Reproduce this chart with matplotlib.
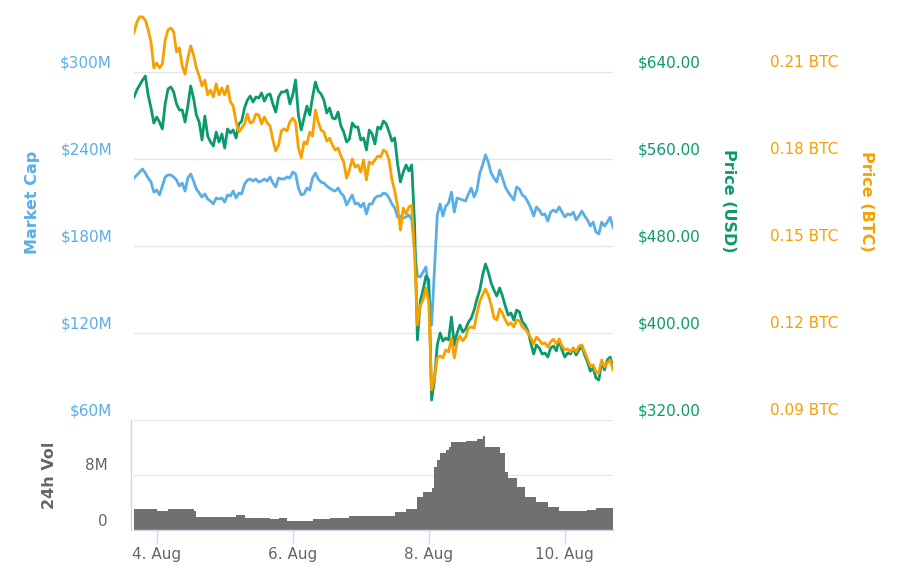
import matplotlib
matplotlib.use("Agg")
import matplotlib.pyplot as plt
import matplotlib.transforms as mt
from matplotlib.lines import Line2D
import pandas as pd

# ---------------- data (hourly samples) ----------------
start_time = "2017-08-03 16:00"
n_points = 170

market_cap = [
    226.9, 229.0, 231.0, 233.1, 230.3, 226.9, 224.1, 217.2, 218.6, 215.2,
    221.4, 227.6, 229.0, 229.0, 227.6, 225.5, 221.4, 223.4, 217.9, 226.9,
    229.7, 224.8, 219.3, 216.5, 213.8, 215.9, 212.4, 211.0, 209.0, 213.1,
    212.4, 213.1, 210.3, 215.2, 214.5, 217.9, 213.1, 216.5, 215.9, 222.7,
    225.5, 226.2, 224.8, 226.2, 224.1, 224.8, 226.2, 224.8, 227.6, 223.4,
    220.7, 226.9, 226.2, 226.2, 227.6, 226.9, 231.0, 229.7, 220.0, 215.2,
    215.9, 220.0, 218.6, 226.9, 230.3, 226.2, 224.1, 223.4, 221.4, 220.0,
    218.6, 217.9, 220.0, 216.5, 214.5, 208.3, 211.7, 215.2, 209.0, 209.6,
    206.9, 209.6, 202.1, 209.0, 209.0, 213.1, 214.5, 214.5, 216.5, 215.9,
    213.1, 209.0, 206.2, 200.0, 200.7, 199.3, 200.0, 201.4, 197.9, 177.2,
    159.3, 158.6, 162.1, 165.5, 149.6, 125.5, 163.4, 201.4, 209.0, 200.7,
    207.6, 209.6, 217.2, 203.4, 213.1, 212.4, 211.7, 211.0, 215.9, 220.0,
    213.8, 218.6, 230.3, 235.9, 242.8, 237.9, 230.3, 226.9, 224.1, 232.4,
    226.9, 220.7, 217.2, 214.5, 211.7, 220.7, 219.3, 215.2, 213.8, 210.3,
    206.2, 200.7, 206.9, 204.8, 201.4, 202.1, 197.2, 203.4, 204.8, 203.4,
    206.9, 203.4, 200.0, 202.1, 201.4, 203.4, 197.9, 200.7, 204.1, 200.7,
    197.9, 193.8, 196.5, 189.6, 188.3, 196.5, 193.8, 196.5, 200.0, 193.1,
]

price_usd = [
    617.0, 623.4, 628.0, 632.6, 636.3, 618.8, 606.9, 593.1, 598.6, 594.0,
    587.6, 610.6, 624.4, 626.2, 621.6, 610.6, 605.1, 605.1, 594.0, 608.7,
    627.1, 616.1, 600.5, 594.0, 577.5, 599.5, 581.1, 575.6, 571.9, 584.8,
    575.6, 583.0, 570.1, 587.6, 583.9, 586.7, 579.3, 592.2, 594.9, 606.9,
    614.2, 617.9, 612.4, 617.0, 616.1, 620.7, 613.3, 618.8, 619.8, 610.6,
    603.2, 617.0, 621.6, 621.6, 623.4, 610.6, 618.8, 632.6, 600.5, 586.7,
    597.7, 608.7, 600.5, 617.0, 630.8, 622.5, 619.8, 614.2, 602.3, 606.9,
    597.7, 596.8, 603.2, 590.3, 584.8, 575.6, 578.4, 593.1, 589.4, 589.4,
    577.5, 579.3, 568.3, 586.7, 583.0, 573.8, 589.4, 587.6, 594.9, 592.2,
    584.8, 576.5, 579.3, 555.4, 538.9, 548.0, 554.5, 549.0, 554.5, 499.3,
    393.6, 429.4, 439.5, 452.4, 448.7, 338.4, 356.8, 389.0, 400.0, 392.6,
    395.4, 393.6, 414.7, 389.0, 400.0, 407.3, 400.9, 403.7, 410.1, 413.8,
    421.1, 431.3, 439.5, 453.3, 463.4, 456.1, 446.0, 439.5, 434.0, 441.4,
    434.0, 424.8, 416.5, 418.4, 411.9, 421.1, 419.3, 410.1, 407.3, 401.8,
    390.8, 380.7, 389.0, 386.2, 380.7, 381.6, 377.9, 386.2, 388.0, 383.5,
    393.6, 384.4, 377.9, 381.6, 380.7, 386.2, 379.8, 384.4, 388.0, 379.8,
    373.3, 365.0, 367.8, 358.6, 356.8, 373.3, 366.0, 375.2, 377.9, 368.7,
]

price_btc = [
    0.2235, 0.2272, 0.2290, 0.2290, 0.2279, 0.2245, 0.2203, 0.2114, 0.2131, 0.2114,
    0.2128, 0.2210, 0.2245, 0.2252, 0.2238, 0.2169, 0.2183, 0.2121, 0.2093, 0.2148,
    0.2190, 0.2159, 0.2114, 0.2086, 0.2052, 0.2072, 0.2021, 0.2038, 0.2014, 0.2059,
    0.2021, 0.2045, 0.2021, 0.2052, 0.1997, 0.1983, 0.1928, 0.1893, 0.1907, 0.1921,
    0.1955, 0.1924, 0.1928, 0.1955, 0.1952, 0.1921, 0.1945, 0.1924, 0.1914, 0.1866,
    0.1828, 0.1848, 0.1897, 0.1904, 0.1897, 0.1928, 0.1941, 0.1928, 0.1838, 0.1804,
    0.1859, 0.1852, 0.1893, 0.1879, 0.1969, 0.1928, 0.1900, 0.1893, 0.1862, 0.1872,
    0.1848, 0.1831, 0.1838, 0.1810, 0.1790, 0.1734, 0.1762, 0.1800, 0.1772, 0.1779,
    0.1755, 0.1797, 0.1728, 0.1790, 0.1783, 0.1797, 0.1810, 0.1807, 0.1831, 0.1824,
    0.1797, 0.1728, 0.1690, 0.1635, 0.1555, 0.1631, 0.1610, 0.1635, 0.1641, 0.1469,
    0.1228, 0.1293, 0.1314, 0.1355, 0.1307, 0.1004, 0.1045, 0.1114, 0.1121, 0.1114,
    0.1142, 0.1135, 0.1183, 0.1114, 0.1169, 0.1190, 0.1173, 0.1186, 0.1217, 0.1221,
    0.1217, 0.1266, 0.1310, 0.1331, 0.1352, 0.1331, 0.1297, 0.1252, 0.1245, 0.1283,
    0.1269, 0.1245, 0.1228, 0.1235, 0.1221, 0.1245, 0.1242, 0.1221, 0.1214, 0.1200,
    0.1183, 0.1162, 0.1186, 0.1176, 0.1162, 0.1166, 0.1152, 0.1169, 0.1179, 0.1162,
    0.1179, 0.1155, 0.1142, 0.1145, 0.1135, 0.1148, 0.1135, 0.1155, 0.1159, 0.1135,
    0.1110, 0.1086, 0.1090, 0.1066, 0.1062, 0.1107, 0.1083, 0.1097, 0.1107, 0.1073,
]

volume_24h = [  # millions USD
    3.05, 3.05, 3.05, 3.05, 3.05, 3.05, 3.05, 3.05, 2.76, 2.76,
    2.76, 2.76, 3.05, 3.05, 3.05, 3.05, 3.05, 3.05, 3.05, 3.05,
    3.05, 2.76, 1.89, 1.89, 1.89, 1.89, 1.89, 1.89, 1.89, 1.89,
    1.89, 1.89, 1.89, 1.89, 1.89, 1.89, 2.18, 2.18, 2.18, 1.75,
    1.75, 1.75, 1.75, 1.75, 1.75, 1.75, 1.75, 1.75, 1.60, 1.60,
    1.60, 1.75, 1.75, 1.75, 1.31, 1.31, 1.31, 1.31, 1.31, 1.31,
    1.31, 1.31, 1.31, 1.60, 1.60, 1.60, 1.60, 1.60, 1.60, 1.75,
    1.75, 1.75, 1.75, 1.75, 1.75, 1.75, 2.04, 2.04, 2.04, 2.04,
    2.04, 2.04, 2.04, 2.04, 2.04, 2.04, 2.04, 2.04, 2.04, 2.04,
    2.04, 2.04, 2.62, 2.62, 2.62, 2.62, 3.05, 3.05, 3.05, 3.05,
    4.80, 4.80, 5.53, 5.53, 5.53, 6.10, 9.16, 10.2, 11.2, 11.2,
    11.6, 12.1, 12.8, 12.8, 12.8, 12.8, 12.8, 12.9, 12.9, 12.9,
    12.9, 13.2, 13.2, 13.7, 12.1, 12.1, 12.1, 12.1, 12.1, 11.2,
    11.2, 8.40, 7.60, 7.60, 7.60, 6.25, 6.25, 6.25, 4.80, 4.80,
    4.80, 4.80, 4.07, 4.07, 4.07, 4.07, 3.35, 3.35, 3.35, 3.35,
    2.76, 2.76, 2.76, 2.76, 2.76, 2.76, 2.76, 2.76, 2.76, 2.76,
    2.90, 2.90, 2.90, 3.20, 3.20, 3.20, 3.20, 3.20, 3.20, 3.20,
]

mc_ticks = [60, 120, 180, 240, 300]
usd_ticks = [320, 400, 480, 560, 640]
btc_ticks = [0.09, 0.12, 0.15, 0.18, 0.21]
vol_ticks = [0, 8, 16]
vol_labels = ["0", "8M", ""]
date_ticks = ["2017-08-04", "2017-08-06", "2017-08-08", "2017-08-10"]

# ---------------- style ----------------
C_BLUE = "#5aaee6"
C_GREEN = "#0a9a6e"
C_ORANGE = "#f7a000"
C_VOL = "#707070"
C_GRID = "#e6e6e6"
C_AXIS = "#ccd6eb"
C_TXT = "#666666"

plt.rcParams["font.family"] = ["DejaVu Sans"]

W, H = 900, 580
fig = plt.figure(figsize=(W / 100, H / 100), dpi=100)
fig.patch.set_facecolor("white")

times = pd.date_range(start_time, periods=n_points, freq="h")

def fx(px):
    return px / W

def fy(py):
    return (H - py) / H

left_px, right_px = 134, 613
main_top, main_bot = 10, 420
vol_top, vol_bot = 420, 530

ax = fig.add_axes([fx(left_px), fy(main_bot), (right_px - left_px) / W, (main_bot - main_top) / H])
ax2 = ax.twinx()
ax3 = ax.twinx()
axv = fig.add_axes([fx(left_px), fy(vol_bot), (right_px - left_px) / W, (vol_bot - vol_top) / H])

# scales so the tick gridlines fall as in the reference
ax.set_ylim(60, 60 + 240 * (main_bot - main_top) / 348)
ax2.set_ylim(320, 320 + 320 * (main_bot - main_top) / 348)
ax3.set_ylim(0.09, 0.09 + 0.12 * (main_bot - main_top) / 348)
axv.set_ylim(0, 16)

for a in (ax, ax2, ax3, axv):
    a.set_xlim(times[0], times[-1])
    for s in a.spines.values():
        s.set_visible(False)
    a.tick_params(left=False, right=False, labelleft=False, labelright=False)

ax.set_facecolor("none")
ax.set_yticks(mc_ticks)
ax.grid(axis="y", color=C_GRID, lw=1)
ax.set_axisbelow(True)
ax.tick_params(axis="x", bottom=False, labelbottom=False)
for a in (ax2, ax3):
    a.set_yticks([])
    a.tick_params(axis="x", bottom=False, labelbottom=False)

ax.plot(times, market_cap, color=C_BLUE, lw=2.0, solid_joinstyle="round")
ax2.plot(times, price_usd, color=C_GREEN, lw=2.0, solid_joinstyle="round")
ax3.plot(times, price_btc, color=C_ORANGE, lw=2.0, solid_joinstyle="round")

# volume panel
axv.set_facecolor("none")
axv.set_yticks(vol_ticks)
axv.grid(axis="y", color=C_GRID, lw=1)
axv.set_axisbelow(True)
axv.fill_between(times, volume_24h, step="post", color=C_VOL, lw=0)
axv.spines["bottom"].set_visible(True)
axv.spines["bottom"].set_color(C_AXIS)
axv.spines["bottom"].set_linewidth(1)
dt = pd.to_datetime(date_ticks)
axv.set_xticks(dt)
axv.set_xticklabels([f"{d.day}. {d:%b}" for d in dt])
axv.tick_params(axis="x", length=10, width=1, color=C_AXIS, labelsize=11,
                labelcolor=C_TXT, pad=2)
fig.add_artist(Line2D([fx(131), fx(131)], [fy(vol_top), fy(vol_bot)],
                      transform=fig.transFigure, color=C_AXIS, lw=1))

# y tick labels (drawn a little above their gridlines, like the reference)
lift = mt.ScaledTranslation(0, 9 / 100, fig.dpi_scale_trans)

def ylabels(axis, ticks, labels, xpx, ha, color):
    tr = mt.blended_transform_factory(fig.transFigure, axis.transData) + lift
    for t, l in zip(ticks, labels):
        axis.text(fx(xpx), t, l, transform=tr, ha=ha, va="center",
                  color=color, fontsize=11, clip_on=False)

ylabels(ax, mc_ticks, [f"${v:.0f}M" for v in mc_ticks], 112, "right", C_BLUE)
ylabels(ax2, usd_ticks, [f"${v:.2f}" for v in usd_ticks], 638, "left", C_GREEN)
ylabels(ax3, btc_ticks, [f"{v:.2f} BTC" for v in btc_ticks], 770, "left", C_ORANGE)
ylabels(axv, vol_ticks, vol_labels, 108, "right", C_TXT)

# axis titles
fig.text(fx(33), fy(202), "Market Cap", rotation=90, ha="center", va="center",
         color=C_BLUE, fontsize=11.5, fontweight="bold")
fig.text(fx(729), fy(201), "Price (USD)", rotation=270, ha="center", va="center",
         color=C_GREEN, fontsize=11.5, fontweight="bold")
fig.text(fx(866), fy(201), "Price (BTC)", rotation=270, ha="center", va="center",
         color=C_ORANGE, fontsize=11.5, fontweight="bold")
fig.text(fx(49), fy(475), "24h Vol", rotation=90, ha="center", va="center",
         color=C_TXT, fontsize=11.5, fontweight="bold")

fig.savefig("out.png", dpi=100, facecolor="white")
